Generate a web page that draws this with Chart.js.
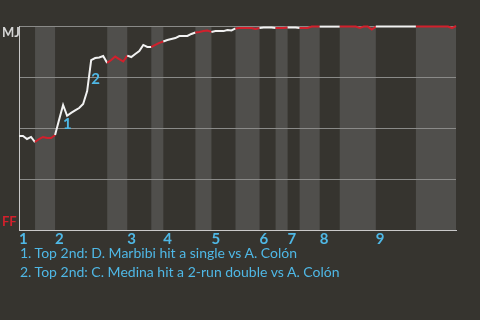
<!DOCTYPE html>
<html><head><meta charset="utf-8">
<script src="https://cdn.jsdelivr.net/npm/chart.js@4/dist/chart.umd.min.js"></script>
<style>
html,body{margin:0;padding:0;background:#36342f;}
#wrap{position:relative;width:480px;height:320px;overflow:hidden;background:#36342f;}
canvas{position:absolute;left:0;top:0;}
#notes{position:absolute;left:20px;top:243px;font:14px Lato, "Noto Sans", sans-serif;line-height:19px;color:#4fb8e6;white-space:nowrap;}
</style></head><body>
<div id="wrap"><canvas id="c" width="480" height="320"></canvas><div id="notes"></div></div>
<script>
// ---- data ----
const innings = ['1','2','3','4','5','6','7','8','9'];
const inningStarts = [0, 9, 27, 36, 48, 60, 67, 75, 89];
const bottomHalfStart = [4, 22, 33, 44, 54, 64, 70, 80, 99];
const bottomHalfEnd   = [9, 27, 36, 48, 60, 67, 75, 89, 109];
const teamTop = 'MJ';
const teamBottom = 'FF';
const winProb = [
  0.461, 0.461, 0.446, 0.456, 0.431, 0.446, 0.456, 0.451, 0.451, 0.466,
  0.540, 0.613, 0.560, 0.574, 0.586, 0.598, 0.618, 0.681, 0.833, 0.843,
  0.846, 0.853, 0.819, 0.833, 0.850, 0.838, 0.826, 0.855, 0.848, 0.863,
  0.877, 0.907, 0.897, 0.897, 0.907, 0.917, 0.924, 0.931, 0.936, 0.941,
  0.951, 0.951, 0.951, 0.961, 0.968, 0.971, 0.975, 0.978, 0.971, 0.975,
  0.975, 0.975, 0.980, 0.978, 0.988, 0.990, 0.990, 0.990, 0.990, 0.985,
  0.990, 0.993, 0.993, 0.993, 0.990, 0.990, 0.990, 0.993, 0.993, 0.993,
  0.990, 0.990, 0.990, 0.997, 0.997, 0.997, 0.997, 0.997, 0.997, 0.997,
  0.997, 0.997, 0.997, 0.997, 0.997, 0.990, 0.997, 0.997, 0.983, 0.997,
  0.997, 0.997, 0.997, 0.997, 0.997, 0.997, 0.997, 0.997, 0.997, 0.997,
  0.997, 0.997, 0.997, 0.997, 0.997, 0.997, 0.997, 0.997, 0.990, 1.000
];
const keyPlays = [11, 18];
const keyLabels = ['1', '2'];
const keyNotes = [
  '1. Top 2nd: D. Marbibi hit a single vs A. Colón',
  '2. Top 2nd: C. Medina hit a 2-run double vs A. Colón'
];

// ---- styles ----
const BLUE = '#4fb8e6', RED = '#d2202c', WHITE = '#f2f2f2';
const SHADE = '#504f4c';
const FONT = 'Lato, "Noto Sans", sans-serif';

document.getElementById('notes').innerHTML = keyNotes.map(t => '<div>' + t + '</div>').join('');

function inBottom(x) {
  for (let i = 0; i < bottomHalfStart.length; i++) {
    if (x >= bottomHalfStart[i] && x < bottomHalfEnd[i]) return true;
  }
  return false;
}

const shading = {
  id: 'shading',
  beforeDraw(chart) {
    const {ctx, chartArea: a, scales: {x}} = chart;
    ctx.save();
    ctx.fillStyle = SHADE;
    for (let i = 0; i < bottomHalfStart.length; i++) {
      const l = x.getPixelForValue(bottomHalfStart[i]);
      const r = x.getPixelForValue(bottomHalfEnd[i]);
      ctx.fillRect(l, a.top, r - l, a.bottom - a.top);
    }
    ctx.restore();
  }
};

const labels = {
  id: 'labels',
  afterDatasetsDraw(chart) {
    const {ctx, scales: {x, y}} = chart;
    ctx.save();
    ctx.font = 'bold 15px ' + FONT;
    ctx.fillStyle = BLUE;
    ctx.textAlign = 'left';
    ctx.textBaseline = 'middle';
    keyPlays.forEach((p, i) => {
      ctx.fillText(keyLabels[i], x.getPixelForValue(p), y.getPixelForValue(winProb[p]) + 19);
    });
    ctx.font = 'bold 13px ' + FONT;
    ctx.fillStyle = '#d6d6d6';
    ctx.fillText(teamTop, 2, y.getPixelForValue(1) + 7);
    ctx.fillStyle = RED;
    ctx.fillText(teamBottom, 2, y.getPixelForValue(0) - 8);
    ctx.restore();
  }
};

new Chart(document.getElementById('c'), {
  type: 'line',
  data: {
    datasets: [{
      data: winProb.map((v, i) => ({x: i, y: v})),
      borderWidth: 2,
      pointRadius: 0,
      tension: 0,
      clip: 6,
      borderColor: WHITE,
      segment: {
        borderColor: c => inBottom(c.p0.parsed.x) ? RED : WHITE
      }
    }]
  },
  options: {
    responsive: false,
    animation: false,
    devicePixelRatio: 1,
    layout: {padding: {left: 0, top: 26, right: 24, bottom: 0}},
    plugins: {legend: {display: false}, tooltip: {enabled: false}},
    scales: {
      x: {
        type: 'linear',
        min: 0,
        max: winProb.length - 1,
        afterFit: s => { s.height = 90; },
        afterBuildTicks: s => { s.ticks = inningStarts.map(v => ({value: v})); },
        ticks: {
          align: 'start',
          padding: 0,
          autoSkip: false,
          maxRotation: 0,
          color: BLUE,
          font: {family: FONT, size: 15, weight: 'bold'},
          callback: (v, i) => innings[i]
        },
        grid: {display: false, drawTicks: false},
        border: {color: '#c9c9c9', width: 1}
      },
      y: {
        min: 0,
        max: 1,
        afterFit: s => { s.width = 19; },
        ticks: {display: false, stepSize: 0.25},
        grid: {
          drawTicks: false,
          color: c => c.tick.value === 0 ? 'rgba(0,0,0,0)' : '#8a8a88',
          lineWidth: 1
        },
        border: {color: '#c9c9c9', width: 1}
      }
    }
  },
  plugins: [shading, labels]
});
</script>
</body></html>
